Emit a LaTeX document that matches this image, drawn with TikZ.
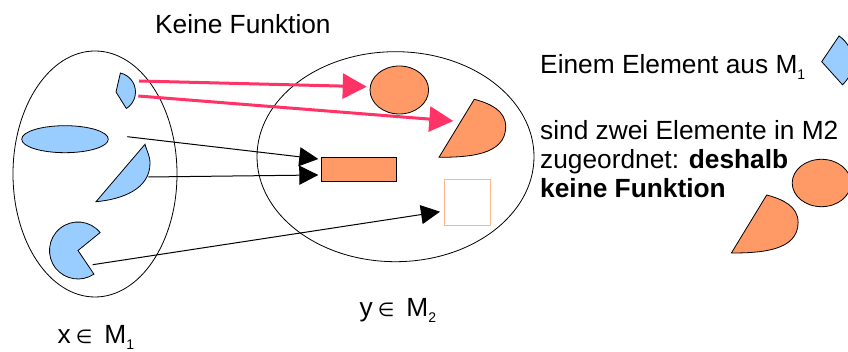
\documentclass[tikz,border=0pt]{standalone}
\usepackage{fontspec}
\setmainfont{Liberation Sans}
\newfontfamily\symfont{DejaVu Sans}
\usetikzlibrary{arrows.meta}

\definecolor{setblue}{HTML}{99CCFF}
\definecolor{setorange}{HTML}{FF9966}
\definecolor{paleorange}{HTML}{FFB48C}
\definecolor{hotred}{HTML}{FF3366}

\newcommand{\idx}[1]{\raisebox{-6.5pt}{\fontsize{14}{14}\selectfont #1}}
\newcommand{\elem}{\hspace{5pt}{\symfont\fontsize{19}{19}\selectfont ∈}\hspace{12pt}}

\begin{document}
\begin{tikzpicture}[x=1pt, y=1pt, set/.style={draw, line width=0.8pt},
    blueshape/.style={draw, fill=setblue, line width=0.8pt},
    orangeshape/.style={draw, fill=setorange, line width=0.8pt},
    lbl/.style={font=\fontsize{26.3}{29.3}\selectfont, inner sep=0pt, anchor=base west},
    map/.style={-{Triangle[length=19pt, width=19pt]}, line width=1pt},
    wrong/.style={-{Triangle[length=24pt, width=25pt]}, hotred, line width=3pt}]

  \useasboundingbox (0,0) rectangle (848,352);

  \draw[set] (95,178) ellipse [x radius=82, y radius=123];
  \draw[set] (395.5,195.3) ellipse [x radius=138.5, y radius=105];

  \draw[blueshape] (116,260) -- ++(77:19.5) arc[start angle=77, end angle=-58, radius=19.5] -- cycle;
  \draw[blueshape] (65,212.8) ellipse [x radius=43.3, y radius=13.5];
  \draw[blueshape] (145,207.7) to[out=-75, in=90] (150,188.7) to[out=-90, in=5] (96,150.3) -- cycle;
  \draw[blueshape] (78,101.5) -- ++(39:28.5) arc[start angle=39, end angle=304, radius=28.5] -- cycle;

  \draw[orangeshape] (399.3,262) ellipse [x radius=29.3, y radius=24];
  \draw[orangeshape] (474.3,252.7) to[out=-15, in=90] (505.7,225.3) to[out=-90, in=0] (439,194.7) -- cycle;
  \draw[orangeshape] (321,170.3) rectangle (396.7,194.7);
  \draw[paleorange, line width=1pt] (444,126) rectangle (490.7,172.7);

  \draw[blueshape] (821.7,290.3) -- ++(56:31) arc[start angle=56, end angle=-48, radius=31] -- cycle;
  \draw[orangeshape] (821.5,169) ellipse [x radius=29.3, y radius=23.7];
  \draw[orangeshape] (766.7,157) to[out=-15, in=90] (798.1,129.6) to[out=-90, in=0] (731.4,99) -- cycle;

  \coordinate (kiteA) at (139,271);
  \coordinate (kiteB) at (138.3,256);
  \coordinate (ovalR) at (127.3,215.3);
  \coordinate (halfR) at (148.3,175);
  \coordinate (pacR) at (92.7,87.3);
  \coordinate (circL) at (366.7,265.3);
  \coordinate (segL) at (453.3,231);
  \coordinate (rectA) at (318.3,193);
  \coordinate (rectB) at (318.3,177);
  \coordinate (boxL) at (440,140.3);

  \draw[wrong] (kiteA) -- (circL);
  \draw[wrong] (kiteB) -- (segL);
  \draw[map] (ovalR) -- (rectA);
  \draw[map] (halfR) -- (rectB);
  \draw[map] (pacR) -- (boxL);

  \node[lbl] (title) at (155,318.7) {Keine Funktion};
  \node[lbl] (dom) at (57.5,8.5) {x\elem M\idx{1}};
  \node[lbl] (cod) at (359.5,35.7) {y\elem M\idx{2}};
  \node[lbl] (note) at (540,278.7) {Einem Element aus M\idx{1}};
  \node[lbl, align=left] (why) at (540,154.3) {sind zwei Elemente in M2\\zugeordnet: \textbf{deshalb}\\\textbf{keine Funktion}};

\end{tikzpicture}
\end{document}
